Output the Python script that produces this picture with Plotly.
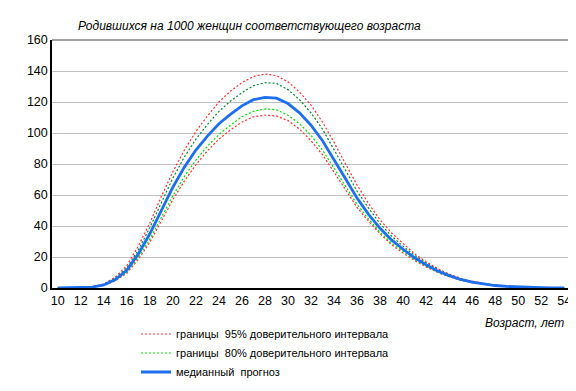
import plotly.graph_objects as go

ages = list(range(10, 55))

median = [0.0, 0.05, 0.2, 0.6, 2.0, 5.5, 11.5, 22, 35, 50, 65, 78, 89, 98, 106, 112, 117.5, 121.5, 123, 122.5,
          119, 113, 105, 95, 83, 70.5, 58, 47.5, 38.5, 31, 25, 19.5, 15, 11, 8, 5.5, 3.8, 2.5, 1.6, 1.0,
          0.6, 0.35, 0.2, 0.1, 0.05]
upper95 = [0.0, 0.06, 0.25, 0.8, 2.6, 7, 14.5, 27, 42, 59, 75, 89, 101, 111, 120, 127, 132.5, 136.5, 138, 137,
           133, 126.5, 118, 107, 94, 80, 66.5, 54.5, 44, 35.5, 28.5, 22, 17, 12.5, 9, 6.3, 4.4, 2.9, 1.9, 1.2,
           0.7, 0.4, 0.25, 0.12, 0.06]
upper80 = [0.0, 0.055, 0.22, 0.7, 2.3, 6.3, 13, 24.5, 39, 55, 71, 84.5, 96, 105.5, 114, 120.5, 126, 130.5, 132.5, 132,
           128, 121.5, 113, 102.5, 89.5, 76, 62.5, 51.5, 41.5, 33.5, 27, 21, 16.2, 11.9, 8.6, 5.9, 4.1, 2.7, 1.75, 1.1,
           0.65, 0.38, 0.22, 0.11, 0.055]
lower80 = [0.0, 0.045, 0.18, 0.55, 1.8, 4.9, 10.2, 19.8, 31.5, 45.5, 59.5, 72, 82.5, 91.5, 99, 105, 110.5, 114, 115.5, 115,
           111.5, 106, 98.5, 89, 77.5, 66, 54, 44.5, 36, 29, 23.5, 18.3, 14, 10.3, 7.5, 5.2, 3.6, 2.35, 1.5, 0.95,
           0.55, 0.32, 0.18, 0.09, 0.045]
lower95 = [0.0, 0.04, 0.17, 0.5, 1.7, 4.6, 9.5, 18.5, 29.5, 43, 57, 69, 79.5, 88.5, 96, 102, 107, 110.5, 111.5, 111,
           108, 102.5, 95, 86, 75, 63.5, 52, 43, 35, 28, 22.5, 17.7, 13.6, 10, 7.3, 5, 3.5, 2.3, 1.45, 0.9,
           0.5, 0.3, 0.17, 0.08, 0.04]

x_ticks = list(range(10, 55, 2))
y_ticks = list(range(0, 161, 20))

title_text = "Родившихся на 1000 женщин соответствующего возраста"
xlabel_text = "Возраст, лет"
name95 = "границы  95% доверительного интервала"
name80 = "границы  80% доверительного интервала"
name_med = "медианный  прогноз"

FONT = "Liberation Sans, Arial, sans-serif"

fig = go.Figure()
fig.add_trace(go.Scatter(x=ages, y=upper95, mode="lines", name=name95, legendgroup="g95",
                         line=dict(color="#FF3030", width=1.2, dash="2px,2px")))
fig.add_trace(go.Scatter(x=ages, y=lower95, mode="lines", name=name95, legendgroup="g95", showlegend=False,
                         line=dict(color="#FF3030", width=1.2, dash="2px,2px")))
fig.add_trace(go.Scatter(x=ages, y=upper80, mode="lines", name=name80, legendgroup="g80", showlegend=False,
                         line=dict(color="#008A2E", width=1.2, dash="2px,2px")))
fig.add_trace(go.Scatter(x=ages, y=lower80, mode="lines", name=name80, legendgroup="g80",
                         line=dict(color="#00E000", width=1.2, dash="2px,2px")))
fig.add_trace(go.Scatter(x=ages, y=median, mode="lines", name=name_med,
                         line=dict(color="#1E6EF0", width=2.8)))

L, R, T, B = 44, 14, 32, 99
pw, ph = 576 - L - R, 391 - T - B

fig.update_layout(
    width=576, height=391,
    margin=dict(l=L, r=R, t=T, b=B),
    paper_bgcolor="white", plot_bgcolor="white",
    font=dict(family=FONT, size=12, color="black"),
    showlegend=True,
    legend=dict(x=(128 - L) / pw, y=(292 - 325) / ph, xanchor="left", yanchor="top", traceorder="normal",
                font=dict(size=11), bgcolor="rgba(0,0,0,0)", tracegroupgap=0, itemwidth=30),
    xaxis=dict(range=[9.5, 54.5], tickvals=x_ticks, ticktext=[str(v) for v in x_ticks],
               showgrid=False, zeroline=False, showline=True, linecolor="black", linewidth=1.5,
               mirror=False, ticks="", tickfont=dict(size=12.5)),
    yaxis=dict(range=[0, 160], tickvals=y_ticks, showgrid=True, gridcolor="#C0C0C0", gridwidth=1,
               zeroline=False, showline=True, linecolor="black", linewidth=1.5, ticks="",
               tickfont=dict(size=12.5)),
    annotations=[
        dict(text="<i>" + title_text + "</i>", x=(68 - L) / pw, y=(292 - 17) / ph, xref="paper", yref="paper",
             xanchor="left", yanchor="middle", showarrow=False, font=dict(size=12)),
        dict(text="<i>" + xlabel_text + "</i>", x=(558 - L) / pw, y=(292 - 329) / ph, xref="paper", yref="paper",
             xanchor="right", yanchor="middle", showarrow=False, font=dict(size=12)),
    ],
    shapes=[
        dict(type="line", xref="paper", yref="paper", x0=0, x1=1, y0=1, y1=1,
             line=dict(color="#808080", width=1.5)),
        dict(type="line", xref="paper", yref="paper", x0=1, x1=1, y0=0, y1=1,
             line=dict(color="#808080", width=1.5)),
    ],
)

fig.write_html("out.html")
